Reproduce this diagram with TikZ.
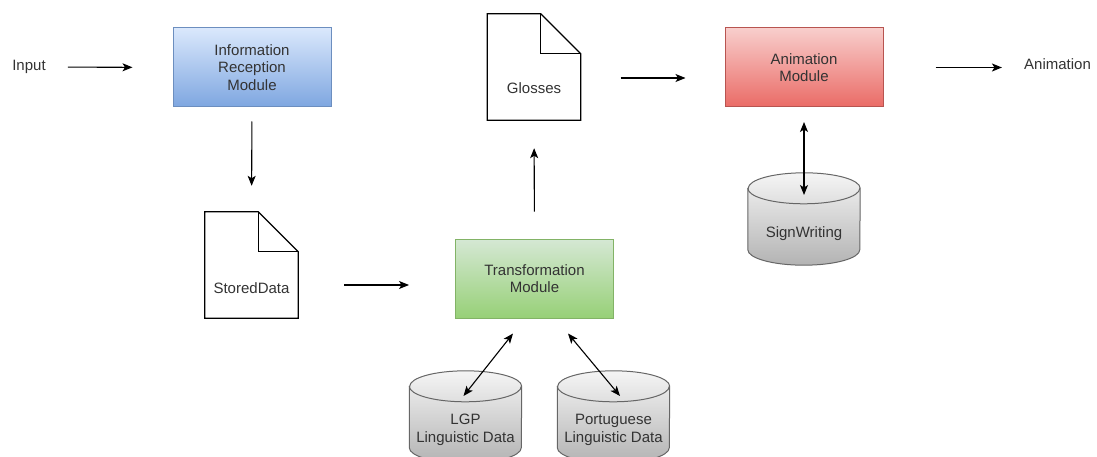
\documentclass[tikz,border=0pt]{standalone}
\usepackage{fontspec}
\setmainfont{Liberation Sans}
\usetikzlibrary{arrows.meta,calc}
\pgfdeclarelayer{back}
\pgfsetlayers{back,main}

\definecolor{txt}{HTML}{333333}
\definecolor{infotop}{HTML}{DAE8FC}
\definecolor{infobot}{HTML}{7EA6E0}
\definecolor{infoline}{HTML}{6C8EBF}
\definecolor{transtop}{HTML}{D5E8D4}
\definecolor{transbot}{HTML}{97D077}
\definecolor{transline}{HTML}{82B366}
\definecolor{animtop}{HTML}{F8CECC}
\definecolor{animbot}{HTML}{EA6B66}
\definecolor{animline}{HTML}{B85450}
\definecolor{dbtop}{HTML}{F5F5F5}
\definecolor{dbbot}{HTML}{B3B3B3}
\definecolor{dbline}{HTML}{666666}

\tikzset{
  lbl/.style={font=\fontsize{15}{17.5}\selectfont, text=txt, align=center, inner sep=0pt},
  module/.style={lbl, draw, line width=1pt, minimum width=158pt, minimum height=79pt},
  docbox/.style={minimum width=93pt, minimum height=106pt, inner sep=0pt},
  dbbox/.style={minimum width=112pt, minimum height=92pt, inner sep=0pt},
  tip/.tip={Stealth[length=10pt,width=8pt,inset=2.5pt]},
  arr/.style={-tip, line width=1.1pt},
  darr/.style={tip-tip, line width=1.1pt},
}

% document with folded corner, drawn behind its label
\newcommand\docshape[1]{%
  \begin{pgfonlayer}{back}
    \draw[line width=1.2pt, fill=white] (#1.south west) -- (#1.north west)
      -- ([xshift=-40pt]#1.north east) -- ([yshift=-40pt]#1.north east)
      -- (#1.south east) -- cycle;
    \draw[line width=1.2pt] ([xshift=-40pt]#1.north east) |- ([yshift=-40pt]#1.north east);
  \end{pgfonlayer}}

% database cylinder, drawn behind its label
\newcommand\dbshape[2]{%
  \begin{pgfonlayer}{back}
    \draw[draw=dbline, line width=1pt, top color=dbtop, bottom color=dbbot]
      ([yshift=-15.5pt]#1.north west) -- ([yshift=15.5pt]#1.south west)
      arc (180:360:#2pt and 15.5pt) -- ([yshift=-15.5pt]#1.north east)
      arc (0:180:#2pt and 15.5pt) -- cycle;
    \draw[draw=dbline, line width=1pt] ([yshift=-15.5pt]#1.north west)
      arc (180:360:#2pt and 15.5pt);
  \end{pgfonlayer}}

\begin{document}
\begin{tikzpicture}[x=1pt,y=1pt]
  \useasboundingbox (0,0) rectangle (1097,456);

  % top row
  \node[lbl] (input) at (29,389) {Input};
  \node[module, draw=infoline, top color=infotop, bottom color=infobot] (info) at (252,388.5) {Information\\Reception\\Module};
  \node[docbox, label={[lbl,yshift=-21pt]center:Glosses}] (gloss) at (534,389) {};
  \docshape{gloss}
  \node[module, draw=animline, top color=animtop, bottom color=animbot] (anim) at (804,388.5) {Animation\\Module};
  \node[lbl] (output) at (1057.5,392) {Animation};

  % middle row
  \node[docbox, label={[lbl,yshift=-23pt]center:StoredData}] (stored) at (251.5,191) {};
  \docshape{stored}
  \node[module, draw=transline, top color=transtop, bottom color=transbot] (trans) at (534.5,177.5) {Transformation\\Module};
  \node[dbbox, label={[lbl,yshift=-15pt]center:SignWriting}] (sign) at (804,237) {};
  \dbshape{sign}{56}

  % databases
  \node[dbbox, label={[lbl,yshift=-13pt]center:LGP\\Linguistic Data}] (lgp) at (465.5,39) {};
  \dbshape{lgp}{56}
  \node[dbbox, label={[lbl,yshift=-13pt]center:Portuguese\\Linguistic Data}] (port) at (613.5,39) {};
  \dbshape{port}{56}

  % flow
  \draw[arr, shorten <=22pt, shorten >=40pt] (input.east) -- (info.west);
  \draw[arr, shorten <=14pt, shorten >=26pt] (info.south) -- (stored.north);
  \draw[arr, shorten <=46pt, shorten >=46pt] ([yshift=-20pt]stored.east) -- ([yshift=-20pt]stored.east -| trans.west);
  \draw[arr, shorten <=27pt, shorten >=28pt] (trans.north) -- (gloss.south);
  \draw[arr, shorten <=40pt, shorten >=39pt] ([yshift=-11pt]gloss.east) -- ([yshift=-11pt]gloss.east -| anim.west);
  \draw[arr, shorten <=52pt, shorten >=22pt] (anim.east) -- (anim.east -| output.west);
  \draw[darr, shorten <=14.5pt, shorten >=24pt] (anim.south) -- (sign.center);
  \draw[darr] ([shift={(-21.5,-15)}]trans.south) -- ([shift={(-2,21)}]lgp.center);
  \draw[darr] ([shift={(33.5,-15)}]trans.south) -- ([shift={(6.5,21)}]port.center);
\end{tikzpicture}
\end{document}
